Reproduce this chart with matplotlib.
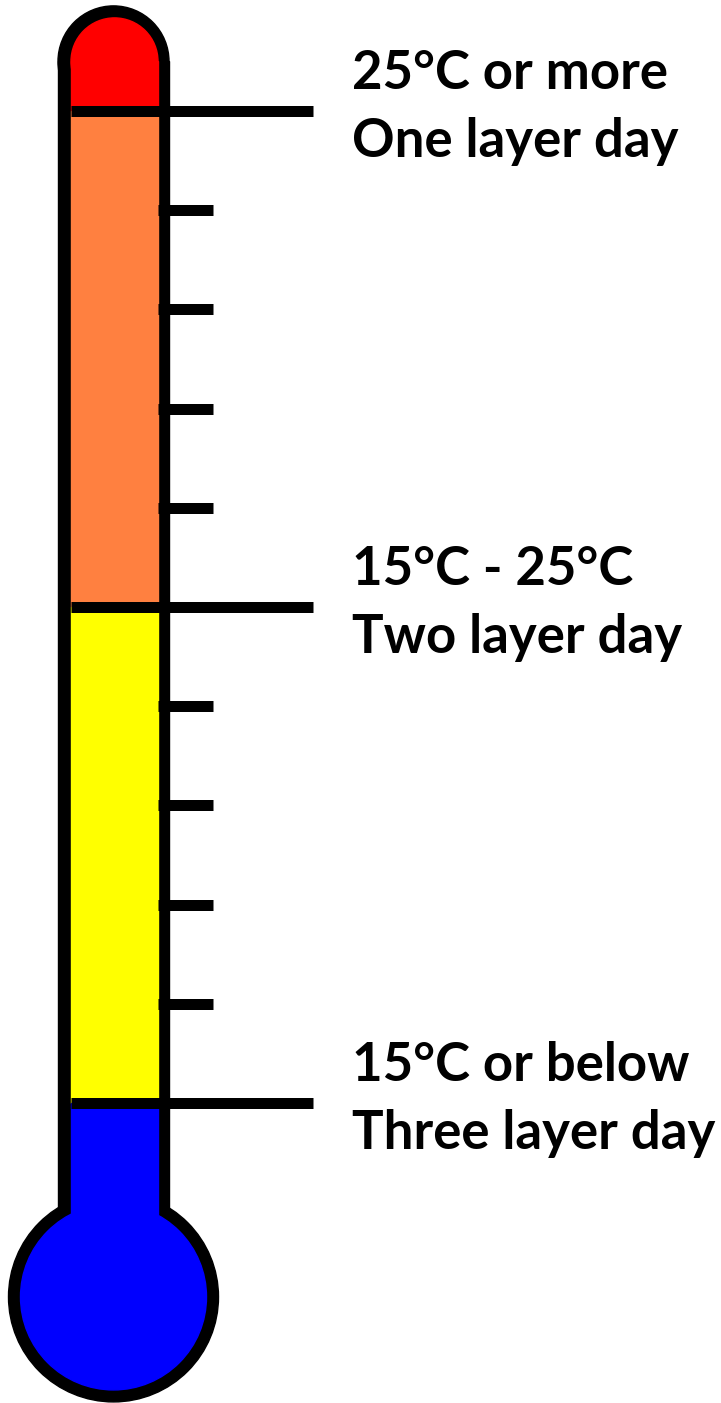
# -*- coding: utf-8 -*-
"""
    Thermometer chart: how many layers to wear for a given temperature.
"""

import matplotlib
matplotlib.use("Agg")
import matplotlib.pyplot as plt
from matplotlib.patches import Rectangle, Ellipse

# temperature bands (degC), top to bottom
thresholds = [25, 15, 5]
zone_colors = ["#ff0000", "#ff8040", "#ffff00", "#0000ff"]
minor_ticks = [23, 21, 19, 17, 13, 11, 9, 7]
label_top = ["25°C or more", "15°C - 25°C", "15°C or below"]
label_bottom = ["One layer day", "Two layer day", "Three layer day"]

# canvas: x in pixels, y in degrees
W, H = 721, 1403
PX_PER_DEG = 49.6
T_TOP = 25 + 111 / PX_PER_DEG
T_BOT = T_TOP - H / PX_PER_DEG


def d(px):
    """pixel length -> degrees"""
    return px / PX_PER_DEG


fig = plt.figure(figsize=(W / 100, H / 100), dpi=100)
ax = fig.add_axes([0, 0, 1, 1])
ax.set_xlim(0, W)
ax.set_ylim(T_BOT, T_TOP)
ax.axis("off")

cx = 113.5
outer_l, outer_r = 58, 169
inner_l, inner_r = 71, 158
t_cap = 26.0          # centre of the rounded top
t_bulb = 1.09         # centre of the bulb
r_bulb_out, r_bulb_in = 105, 93

# black outline
ax.add_patch(Rectangle((outer_l, t_bulb), outer_r - outer_l, t_cap - t_bulb,
                       color="black", zorder=1))
ax.add_patch(Ellipse((cx, t_cap), outer_r - outer_l, d(outer_r - outer_l),
                     color="black", zorder=1))
ax.add_patch(Ellipse((cx, t_bulb), 2 * r_bulb_out, d(2 * r_bulb_out),
                     color="black", zorder=1))

# coloured liquid
inner_w = inner_r - inner_l
bounds = [t_cap] + thresholds + [t_bulb]
for i, col in enumerate(zone_colors):
    ax.add_patch(Rectangle((inner_l, bounds[i + 1]), inner_w,
                           bounds[i] - bounds[i + 1], color=col, zorder=2))
ax.add_patch(Ellipse((cx + 1, t_cap), inner_w, d(inner_w),
                     color=zone_colors[0], zorder=2))
ax.add_patch(Ellipse((cx, t_bulb), 2 * r_bulb_in, d(2 * r_bulb_in),
                     color=zone_colors[-1], zorder=2))

# scale marks
lw = 11 * 72 / 100
for t in thresholds:
    ax.plot([inner_l, 313], [t, t], color="black", lw=lw,
            solid_capstyle="butt", zorder=3)
for t in minor_ticks:
    ax.plot([inner_r, 213], [t, t], color="black", lw=lw,
            solid_capstyle="butt", zorder=3)

# labels
font = dict(family=["Lato", "DejaVu Sans"], weight="bold", size=38,
            color="black", va="baseline", ha="left")
for t, a, b in zip(thresholds, label_top, label_bottom):
    ax.text(352, t + d(22), a, **font)
    ax.text(352, t - d(46), b, **font)

fig.savefig("out.png", dpi=100)
